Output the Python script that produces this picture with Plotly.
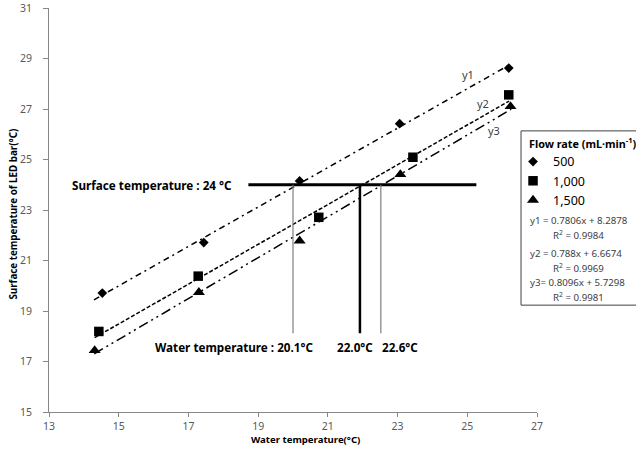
import plotly.graph_objects as go

# ---- data ----
series_names = ["500", "1,000", "1,500"]
x_500 = [14.53, 17.44, 20.19, 23.06, 26.19]
y_500 = [19.71, 21.71, 24.15, 26.42, 28.62]
x_1000 = [14.43, 17.28, 20.74, 23.44, 26.19]
y_1000 = [18.19, 20.38, 22.71, 25.09, 27.56]
x_1500 = [14.31, 17.30, 20.19, 23.08, 26.24]
y_1500 = [17.44, 19.74, 21.78, 24.41, 27.10]

fit_names = ["y1", "y2", "y3"]
slopes = [0.7806, 0.788, 0.8096]
intercepts = [8.2878, 6.6674, 5.7298]
r_squared = ["0.9984", "0.9969", "0.9981"]
fit_x_start = [14.29, 14.31, 14.30]
fit_x_end = [26.20, 26.20, 26.26]
equation_texts = ["y1 = 0.7806x + 8.2878", "y2 = 0.788x + 6.6674", "y3= 0.8096x + 5.7298"]

surface_temp = 24
surface_line_x = [18.72, 25.26]
water_temps = [20.0, 21.92, 22.52]
water_line_bottom = 18.12
water_labels = ["Water temperature : 20.1°C", "22.0°C", "22.6°C"]

x_ticks = [13, 15, 17, 19, 21, 23, 25, 27]
y_ticks = [15, 17, 19, 21, 23, 25, 27, 29, 31]

FONT = "Noto Sans"
AX = "#868686"
TICKC = "#595959"

# plot-area pixel box
L, R, T, B = 48.5, 537.0, 8.3, 411.7
W, H = R - L, B - T
def px(xp):
    return (xp - L) / W
def py(yp):
    return (B - yp) / H

fig = go.Figure()

symbols = ["diamond", "square", "triangle-up"]
sizes = [7.5, 9.5, 10.5]
xs = [x_500, x_1000, x_1500]
ys = [y_500, y_1000, y_1500]
dashes = ["6px,4px,2px,4px", "4px,2px", "10px,4px,2px,4px,2px,4px"]

for i in range(3):
    fx = [fit_x_start[i], fit_x_end[i]]
    fy = [slopes[i] * v + intercepts[i] for v in fx]
    fig.add_trace(go.Scatter(x=fx, y=fy, mode="lines", showlegend=False,
                             line=dict(color="black", width=1.5, dash=dashes[i]),
                             hoverinfo="skip"))

for i in range(3):
    fig.add_trace(go.Scatter(x=xs[i], y=ys[i], mode="markers", name=series_names[i],
                             marker=dict(symbol=symbols[i], size=sizes[i], color="black")))

# surface temperature line
fig.add_shape(type="line", x0=surface_line_x[0], x1=surface_line_x[1],
              y0=surface_temp, y1=surface_temp, line=dict(color="black", width=3))
line_styles = [("#7f7f7f", 1.2), ("black", 2.5), ("#7f7f7f", 1.2)]
for i, wt in enumerate(water_temps):
    fig.add_shape(type="line", x0=wt, x1=wt, y0=surface_temp, y1=water_line_bottom,
                  line=dict(color=line_styles[i][0], width=line_styles[i][1]))

label_font = dict(family=FONT, size=11.7, color="black")
fig.add_annotation(x=surface_line_x[0], y=surface_temp, xref="x", yref="y",
                   text="<b>Surface temperature : 24 °C</b>", showarrow=False,
                   xanchor="right", yanchor="middle", xshift=-14, font=label_font)
wl_y = 17.56
fig.add_annotation(x=water_temps[0], y=wl_y, text="<b>" + water_labels[0] + "</b>",
                   showarrow=False, xanchor="right", yanchor="middle", xshift=22, font=label_font)
fig.add_annotation(x=water_temps[1], y=wl_y, text="<b>" + water_labels[1] + "</b>",
                   showarrow=False, xanchor="center", yanchor="middle", xshift=-5, font=label_font)
fig.add_annotation(x=water_temps[2], y=wl_y, text="<b>" + water_labels[2] + "</b>",
                   showarrow=False, xanchor="left", yanchor="middle", xshift=-1, font=label_font)

# fit line labels
fit_label_pos = [(25.03, 28.35), (25.46, 27.2), (25.78, 26.14)]
for name, (lx, ly) in zip(fit_names, fit_label_pos):
    fig.add_annotation(x=lx, y=ly, text=name, showarrow=False,
                       font=dict(family=FONT, size=11, color="#404040"))

# axis titles
fig.add_annotation(x=px(305), y=py(447.5), xref="paper", yref="paper",
                   text="<b>Water temperature(°C)</b>",
                   showarrow=False, font=dict(family=FONT, size=9.6, color="black"))
fig.add_annotation(x=px(12), y=py(214), xref="paper", yref="paper",
                   xanchor="center", yanchor="middle",
                   text="<b>Surface temperature of LED bar(°C)</b>",
                   showarrow=False, textangle=-90, font=dict(family=FONT, size=9.8, color="black"))

# legend box, title and equations
fig.add_shape(type="rect", xref="paper", yref="paper", x0=px(521), x1=px(660),
              y0=py(305), y1=py(131), line=dict(color="#404040", width=1))
fig.add_annotation(x=px(527), y=py(143.5), xref="paper", yref="paper",
                   text="<b>Flow rate (mL·min<sup>-1</sup>)</b>", showarrow=False,
                   xanchor="left", yanchor="middle",
                   font=dict(family=FONT, size=10.8, color="black"))
eq_font = dict(family=FONT, size=9.7, color="#404040")
eq_y = [220.7, 253.3, 282.0]
for i in range(3):
    fig.add_annotation(x=px(528), y=py(eq_y[i]), xref="paper", yref="paper", text=equation_texts[i],
                       showarrow=False, xanchor="left", yanchor="middle", font=eq_font)
    fig.add_annotation(x=px(551), y=py(eq_y[i] + 14.5), xref="paper", yref="paper",
                       text="R<sup>2</sup> = " + r_squared[i],
                       showarrow=False, xanchor="left", yanchor="middle", font=eq_font)

fig.update_layout(
    width=636, height=456,
    margin=dict(l=L, r=636 - R, t=T, b=456 - B, pad=0, autoexpand=False),
    paper_bgcolor="white", plot_bgcolor="white",
    font=dict(family=FONT, color=TICKC),
    legend=dict(x=px(513), y=py(147), xanchor="left", yanchor="top",
                bgcolor="rgba(0,0,0,0)", borderwidth=0,
                font=dict(family=FONT, size=12.5, color="black"),
                itemwidth=30, tracegroupgap=0),
    xaxis=dict(range=[13, 27], tickvals=x_ticks, showgrid=False, zeroline=False,
               showline=True, linecolor=AX, linewidth=1, ticks="outside", ticklen=4,
               tickcolor=AX, tickfont=dict(family=FONT, size=10.5, color=TICKC)),
    yaxis=dict(range=[15, 31], tickvals=y_ticks, showgrid=False, zeroline=False,
               showline=True, linecolor=AX, linewidth=1, ticks="outside", ticklen=5,
               ticklabelstandoff=9,
               tickcolor=AX, tickfont=dict(family=FONT, size=10.5, color=TICKC)),
    showlegend=True,
)

fig.write_html("out.html")
